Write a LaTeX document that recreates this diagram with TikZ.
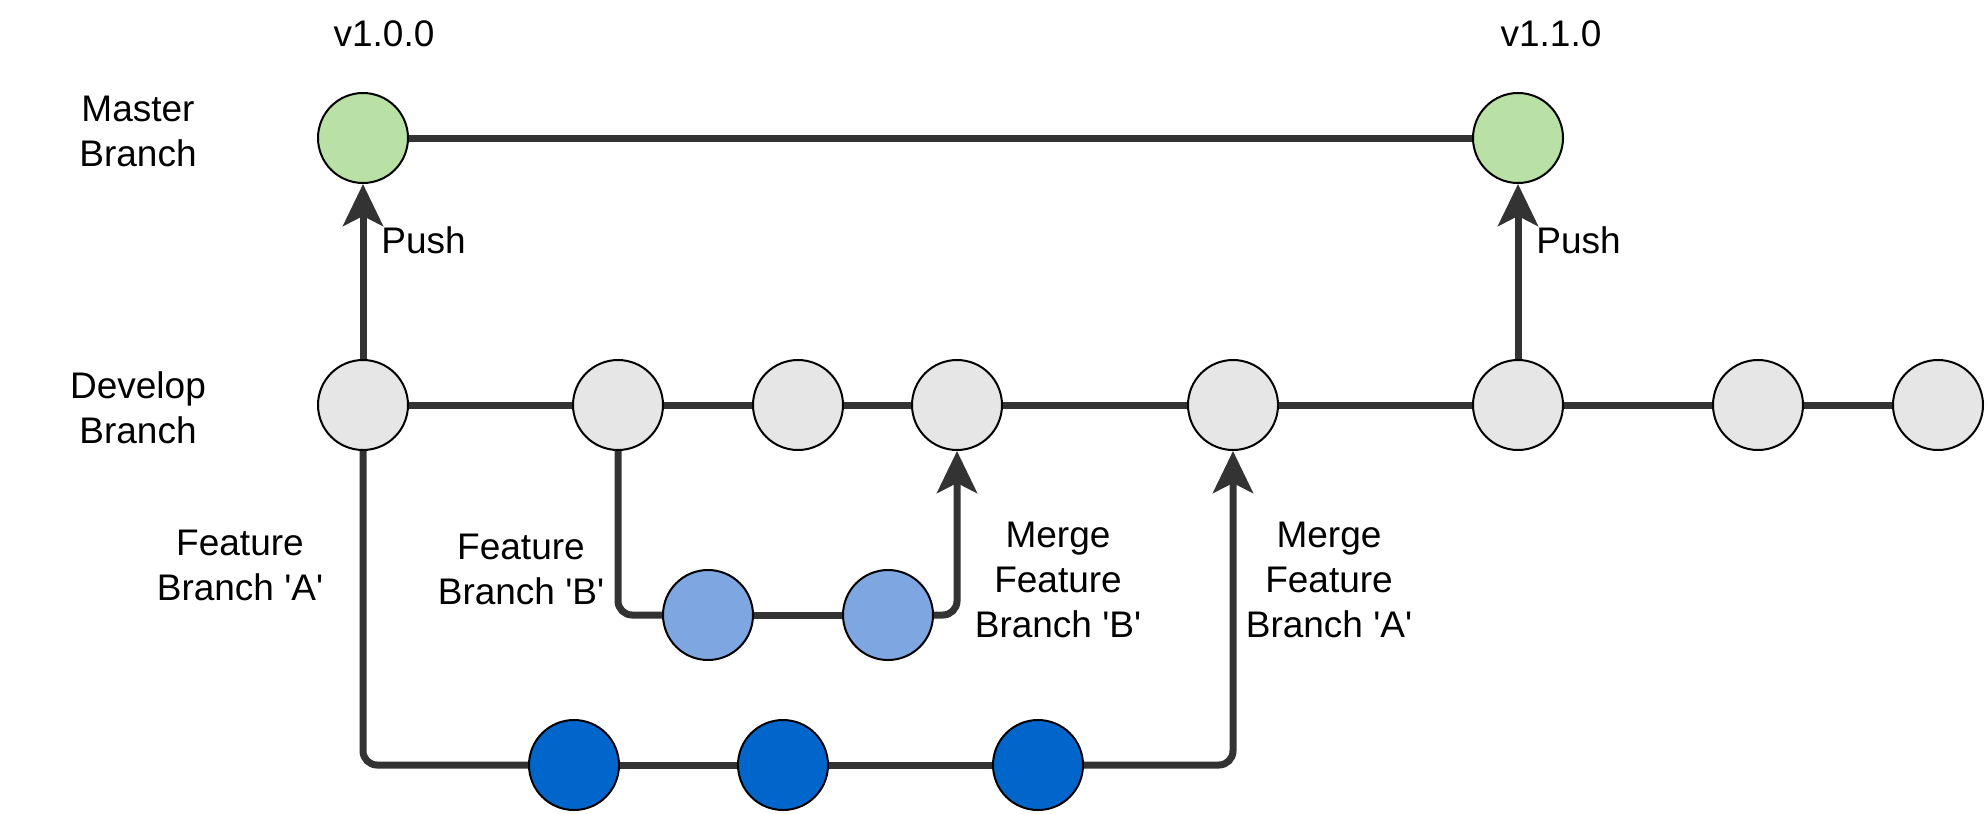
\documentclass[tikz,border=0pt]{standalone}
\usepackage{fontspec}
\setmainfont{Liberation Sans}
\usetikzlibrary{arrows.meta}
\definecolor{gitink}{HTML}{333333}
\definecolor{gitmaster}{HTML}{B9E0A5}
\definecolor{gitdev}{HTML}{E6E6E6}
\definecolor{gitfeatb}{HTML}{7EA6E0}
\definecolor{gitfeata}{HTML}{0066CC}
\newcommand{\brname}[1]{Branch \textquotesingle#1\textquotesingle}
\tikzset{
  commit/.style={circle, draw=black, line width=1pt, minimum size=45pt, inner sep=0pt},
  mst/.style={commit, fill=gitmaster},
  dev/.style={commit, fill=gitdev},
  fbc/.style={commit, fill=gitfeatb},
  fac/.style={commit, fill=gitfeata},
  ln/.style={line width=3.5pt, color=gitink, rounded corners=7pt},
  arr/.style={ln, -{Stealth[length=21pt, width=20pt, inset=5pt]}},
  lbl/.style={font=\fontsize{18.5}{22.5}\selectfont, align=center, inner sep=0pt},
}
\begin{document}
\begin{tikzpicture}[x=0.5pt, y=-0.5pt]
      \useasboundingbox (0,0) rectangle (1987,814);
      % commits
      \node[mst] (m1) at (363,138) {};
      \node[mst] (m2) at (1518,138) {};
      \node[dev] (d1) at (363,405) {};
      \node[dev] (d2) at (618,405) {};
      \node[dev] (d3) at (798,405) {};
      \node[dev] (d4) at (957,405) {};
      \node[dev] (d5) at (1233,405) {};
      \node[dev] (d6) at (1518,405) {};
      \node[dev] (d7) at (1758,405) {};
      \node[dev] (d8) at (1938,405) {};
      \node[fbc] (b1) at (708,615) {};
      \node[fbc] (b2) at (888,615) {};
      \node[fac] (a1) at (574,765) {};
      \node[fac] (a2) at (783,765) {};
      \node[fac] (a3) at (1038,765) {};
      % labels
      \node[lbl] (v100) at (384,34) {v1.0.0};
      \node[lbl] (v110) at (1551,34) {v1.1.0};
      \node[lbl] (mstlbl) at (138,131) {Master\\Branch};
      \node[lbl] (devlbl) at (138,408) {Develop\\Branch};
      \node[lbl, anchor=west] (push1) at (381,240) {Push};
      \node[lbl, anchor=west] (push2) at (1536,240) {Push};
      \node[lbl] (falbl) at (240,565) {Feature\\\brname{A}};
      \node[lbl] (fblbl) at (521,569) {Feature\\\brname{B}};
      \node[lbl] (mblbl) at (1058,580) {Merge\\Feature\\\brname{B}};
      \node[lbl] (malbl) at (1329,580) {Merge\\Feature\\\brname{A}};
      % branches
      \draw[ln] (m1) -- (m2);
      \draw[ln] (d1) -- (d2) -- (d3) -- (d4) -- (d5) -- (d6) -- (d7) -- (d8);
      \draw[arr] (d1) -- (m1); \draw[arr] (d6) -- (m2);
      \draw[ln] (d2) |- (b1); \draw[ln] (b1) -- (b2); \draw[arr] (b2) -| (d4);
      \draw[ln] (d1) |- (a1); \draw[ln] (a1) -- (a2) -- (a3); \draw[arr] (a3) -| (d5);
    \end{tikzpicture}
\end{document}
